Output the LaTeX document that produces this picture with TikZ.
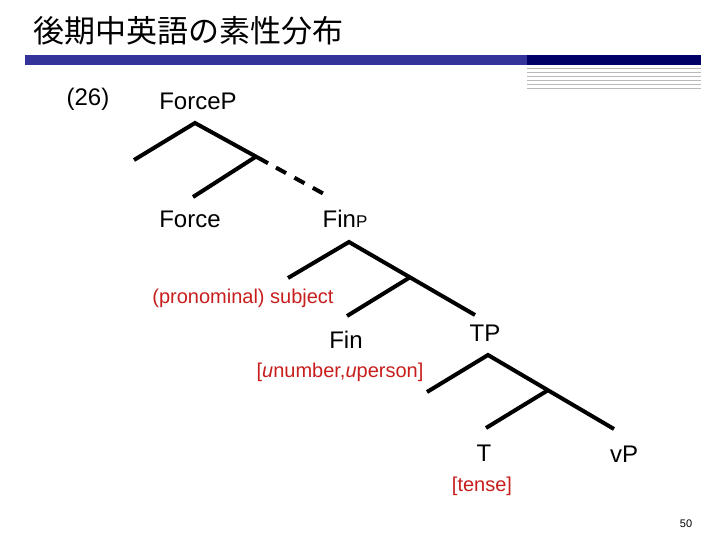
\documentclass[tikz,border=0pt]{standalone}
\usepackage{fontspec}
\setmainfont{Liberation Sans}
\newfontfamily\jpfont{Noto Sans CJK JP}
\usepackage{xcolor}
\usepackage{tikz}
\usetikzlibrary{positioning}
\definecolor{tblue}{RGB}{51,51,153}
\definecolor{tnavy}{RGB}{0,0,102}
\definecolor{tgray}{RGB}{185,185,185}
\definecolor{tred}{RGB}{200,30,30}

\begin{document}
\begin{tikzpicture}[
  x=1pt, y=-1pt,
  lab/.style={font=\fontsize{24}{28}\selectfont, inner sep=0pt, anchor=base},
  feat/.style={font=\fontsize{20}{24}\selectfont, text=tred, inner sep=0pt, anchor=base},
  branch/.style={line width=4pt},
  partial/.style={branch, dash pattern=on 11.5pt off 9.5pt}
]
\useasboundingbox[fill=white] (0,0) rectangle (720,540);
% title and header bar
\node[anchor=base west, inner sep=0pt, font=\jpfont\fontsize{31}{36}\selectfont] (title) at (33,43) {後期中英語の素性分布};
\fill[tblue] (25,55) rectangle (527,65);
\fill[tnavy] (527,55) rectangle (701,65);
\foreach \yy in {68.5,72.5,76.5,80.5,84.5,88.5}
  \draw[tgray, line width=0.9pt] (527,\yy) -- (701,\yy);
% labels
\node[lab] (ex) at (88,106) {(26)};
\node[lab] (forceP) at (198,110) {ForceP};
\node[lab] (force) at (190,228) {Force};
\node[lab] (finP) at (345,228) {Fin{\fontsize{17}{20}\selectfont P}};
\node[feat] (subj) at (243,303) {(pronominal) subject};
\node[lab] (fin) at (346,348) {Fin};
\node[lab] (tp) at (485,341) {TP};
\node[feat] (phi) at (340,377) {[\textit{u}number,\textit{u}person]};
\node[lab] (t) at (484,461) {T};
\node[lab] (vp) at (624,462) {vP};
\node[feat] (tense) at (482,491) {[tense]};
\node[inner sep=0pt, anchor=base, font=\fontsize{11}{13}\selectfont] (pg) at (686,527) {50};
% ForceP
\coordinate (fpTop) at (195,123);
\coordinate (fpSpec) at (134,160);
\coordinate (fpBar) at (256,156.6);
\coordinate (fpHead) at (193,197);
\coordinate (fpCut) at (268,163.2);
\coordinate (fpDash) at (276,167.6);
\coordinate (fpComp) at (324,194);
\draw[branch] (fpSpec) -- (fpTop) -- (fpCut);
\draw[branch] (fpBar) -- (fpHead);
\draw[partial] (fpDash) -- (fpComp);
% FinP
\coordinate (finTop) at (349,242);
\coordinate (finSpec) at (288,278);
\coordinate (finBar) at (410,277.3);
\coordinate (finHead) at (347,316);
\coordinate (finComp) at (475,315);
\draw[branch] (finSpec) -- (finTop) -- (finComp);
\draw[branch] (finBar) -- (finHead);
% TP
\coordinate (tpTop) at (488,355);
\coordinate (tpSpec) at (427,392);
\coordinate (tpBar) at (548,390.2);
\coordinate (tpHead) at (486,428);
\coordinate (tpComp) at (614,429);
\draw[branch] (tpSpec) -- (tpTop) -- (tpComp);
\draw[branch] (tpBar) -- (tpHead);
\end{tikzpicture}
\end{document}
